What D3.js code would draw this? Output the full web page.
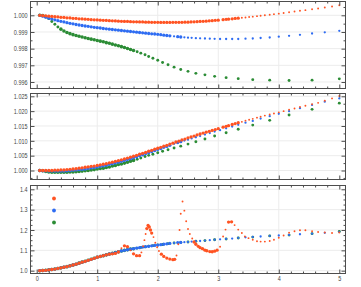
<!DOCTYPE html>
<html><head><meta charset="utf-8">
<script src="https://cdn.jsdelivr.net/npm/d3@7"></script>
<style>body{margin:0;background:#fff}svg{display:block}text{font-family:"Liberation Sans",Arial,sans-serif}</style>
</head><body><svg id="c" width="361" height="287"></svg>
<script>
// ---------- data ----------
const xGreen = [0.05,0.1,0.15,0.2,0.25,0.3,0.35,0.4,0.45,0.5,0.55,0.6,0.65,0.7,0.75,0.8,0.85,0.9,0.95,1,1.05,1.1,1.15,1.2,1.25,1.3,1.35,1.4,1.45,1.5,1.55,1.6,1.66,1.72,1.79,1.85,1.92,2,2.08,2.17,2.27,2.38,2.5,2.63,2.78,2.94,3.13,3.33,3.57,3.85,4.17,4.55,5];
const xBlue = [0.05,0.1,0.15,0.2,0.25,0.3,0.35,0.4,0.45,0.5,0.55,0.6,0.65,0.7,0.75,0.8,0.85,0.9,0.95,1,1.05,1.1,1.15,1.2,1.25,1.3,1.35,1.4,1.45,1.5,1.55,1.6,1.65,1.7,1.75,1.8,1.85,1.9,1.95,2,2.05,2.1,2.15,2.2,2.27,2.33,2.38,2.44,2.5,2.56,2.63,2.7,2.78,2.86,2.94,3.03,3.13,3.23,3.33,3.45,3.57,3.7,3.85,4,4.17,4.35,4.55,4.76,5];
const xOrange = [0.05,0.1,0.15,0.2,0.25,0.3,0.35,0.4,0.45,0.5,0.55,0.6,0.65,0.7,0.75,0.8,0.85,0.9,0.95,1,1.05,1.1,1.15,1.2,1.25,1.3,1.35,1.4,1.45,1.5,1.55,1.6,1.65,1.7,1.75,1.8,1.85,1.9,1.95,2,2.05,2.1,2.15,2.2,2.25,2.3,2.35,2.4,2.45,2.5,2.55,2.6,2.65,2.7,2.75,2.8,2.85,2.9,2.95,3,3.08,3.13,3.17,3.23,3.28,3.33,3.39,3.45,3.51,3.57,3.64,3.7,3.77,3.85,3.92,4,4.08,4.17,4.26,4.35,4.44,4.55,4.65,4.76,4.88,5];
const xOrange3 = [0.05,0.1,0.15,0.2,0.25,0.3,0.35,0.4,0.45,0.5,0.55,0.6,0.65,0.7,0.75,0.8,0.85,0.9,0.95,1,1.05,1.1,1.15,1.2,1.25,1.3,1.35,1.4,1.45,1.5,1.55,1.6,1.65,1.7,1.73,1.76,1.78,1.8,1.82,1.84,1.86,1.88,1.9,1.93,1.96,1.99,2.02,2.06,2.1,2.15,2.2,2.25,2.28,2.31,2.34,2.36,2.38,2.41,2.44,2.47,2.5,2.53,2.57,2.6,2.63,2.67,2.7,2.74,2.78,2.81,2.86,2.9,2.94,2.98,3.03,3.08,3.12,3.17,3.22,3.27,3.33,3.39,3.44,3.5,3.57,3.64,3.7,3.77,3.85,3.92,4,4.08,4.17,4.26,4.35,4.44,4.55,4.65,4.76,4.88,5];

const p1Green = [1,0.99999,0.99992,0.9998,0.99963,0.99946,0.9993,0.99917,0.99906,0.99897,0.9989,0.99884,0.99879,0.99874,0.9987,0.99865,0.99861,0.99857,0.99853,0.99849,0.99845,0.99841,0.99836,0.99832,0.99827,0.99822,0.99817,0.99812,0.99807,0.99801,0.99795,0.99789,0.99781,0.99773,0.99763,0.99753,0.99742,0.9973,0.99717,0.99703,0.99689,0.99675,0.99664,0.99652,0.99643,0.99634,0.99626,0.9962,0.99614,0.99611,0.99609,0.99611,0.99619];
const p1Blue = [1,0.99995,0.99989,0.99983,0.99978,0.99973,0.99968,0.99964,0.9996,0.99956,0.99952,0.99949,0.99945,0.99942,0.99939,0.99936,0.99934,0.99931,0.99928,0.99926,0.99924,0.99921,0.99919,0.99917,0.99915,0.99913,0.99911,0.99909,0.99907,0.99905,0.99903,0.99901,0.99899,0.99897,0.99895,0.99893,0.99891,0.99889,0.99888,0.99886,0.99884,0.99881,0.99879,0.99877,0.99874,0.99872,0.9987,0.99868,0.99866,0.99865,0.99863,0.99862,0.99861,0.9986,0.99859,0.99858,0.99858,0.99858,0.99858,0.9986,0.99861,0.99864,0.99867,0.99872,0.99877,0.99883,0.99891,0.99898,0.99907];
const p1Orange = [1,0.99998,0.99997,0.99995,0.99993,0.99992,0.9999,0.99988,0.99987,0.99985,0.99984,0.99982,0.99981,0.99979,0.99978,0.99977,0.99976,0.99974,0.99973,0.99972,0.99971,0.9997,0.99969,0.99968,0.99967,0.99966,0.99965,0.99964,0.99963,0.99963,0.99962,0.99961,0.99961,0.9996,0.9996,0.99959,0.99959,0.99958,0.99958,0.99958,0.99957,0.99957,0.99957,0.99957,0.99958,0.99958,0.99958,0.99958,0.99959,0.99959,0.9996,0.99961,0.99962,0.99963,0.99964,0.99965,0.99967,0.99968,0.9997,0.99971,0.99974,0.99976,0.99977,0.99979,0.99981,0.99983,0.99985,0.99987,0.9999,0.99992,0.99995,0.99997,1,1.00003,1.00007,1.0001,1.00014,1.00018,1.00023,1.00027,1.00031,1.00036,1.00041,1.00047,1.00053,1.0006];

const p2Green = [1,0.9999,0.9997,0.9995,0.9994,0.9994,0.9994,0.9994,0.9994,0.9994,0.9995,0.9995,0.9996,0.9997,0.9998,0.9999,1,1.0002,1.0003,1.0005,1.0007,1.0008,1.001,1.0012,1.0015,1.0017,1.002,1.0022,1.0025,1.0028,1.0031,1.0034,1.0038,1.0042,1.0047,1.0051,1.0055,1.006,1.0065,1.007,1.0076,1.0082,1.0089,1.0097,1.0106,1.0116,1.0127,1.0139,1.0153,1.0169,1.0187,1.0206,1.0227];
const p2Blue = [1,0.9999,0.9999,0.9998,0.9998,0.9998,0.9998,0.9998,0.9998,0.9999,1,1.0001,1.0002,1.0003,1.0004,1.0005,1.0007,1.0009,1.001,1.0012,1.0014,1.0016,1.0018,1.0021,1.0023,1.0026,1.0028,1.0031,1.0034,1.0037,1.004,1.0043,1.0046,1.005,1.0053,1.0057,1.006,1.0064,1.0067,1.0071,1.0074,1.0078,1.0081,1.0085,1.009,1.0094,1.0097,1.0101,1.0104,1.0108,1.0112,1.0116,1.0121,1.0126,1.0131,1.0136,1.0142,1.0148,1.0154,1.0161,1.0167,1.0175,1.0183,1.0191,1.02,1.021,1.0221,1.0232,1.0243];
const p2Orange = [1,1,1,1,1,1.0001,1.0001,1.0002,1.0002,1.0003,1.0004,1.0005,1.0006,1.0008,1.0009,1.0011,1.0012,1.0014,1.0015,1.0017,1.0019,1.0021,1.0023,1.0026,1.0028,1.0031,1.0033,1.0036,1.0039,1.0042,1.0045,1.0048,1.0051,1.0055,1.0058,1.0061,1.0065,1.0068,1.0072,1.0075,1.0078,1.0082,1.0085,1.0089,1.0092,1.0096,1.0099,1.0103,1.0106,1.011,1.0113,1.0116,1.012,1.0123,1.0126,1.0129,1.0132,1.0135,1.0138,1.0141,1.0146,1.0149,1.0151,1.0155,1.0158,1.0161,1.0164,1.0168,1.0171,1.0174,1.0178,1.0181,1.0185,1.0189,1.0192,1.0196,1.02,1.0205,1.0209,1.0214,1.0218,1.0223,1.0228,1.0235,1.0243,1.0251];

const p3Green = [1,1.001,1.002,1.004,1.006,1.008,1.011,1.014,1.017,1.02,1.024,1.028,1.032,1.037,1.042,1.046,1.051,1.056,1.061,1.066,1.07,1.074,1.078,1.082,1.085,1.089,1.093,1.097,1.1,1.103,1.106,1.108,1.111,1.114,1.117,1.12,1.123,1.126,1.129,1.133,1.136,1.139,1.141,1.145,1.148,1.152,1.156,1.161,1.165,1.171,1.175,1.182,1.193];
const p3Blue = [1,1.001,1.002,1.004,1.006,1.008,1.011,1.014,1.017,1.02,1.024,1.028,1.032,1.037,1.042,1.046,1.051,1.056,1.061,1.066,1.07,1.074,1.078,1.082,1.085,1.089,1.093,1.097,1.1,1.103,1.106,1.108,1.111,1.113,1.116,1.118,1.12,1.122,1.124,1.126,1.128,1.13,1.132,1.134,1.136,1.138,1.139,1.14,1.141,1.143,1.145,1.146,1.148,1.15,1.152,1.154,1.156,1.158,1.161,1.164,1.166,1.168,1.171,1.173,1.176,1.179,1.182,1.186,1.191];
const p3Orange = [1,1.001,1.002,1.004,1.006,1.008,1.011,1.014,1.017,1.02,1.024,1.028,1.032,1.037,1.042,1.046,1.051,1.056,1.061,1.066,1.07,1.074,1.078,1.081,1.083,1.085,1.092,1.11,1.122,1.118,1.1,1.083,1.074,1.074,1.09,1.12,1.15,1.18,1.207,1.222,1.215,1.2,1.185,1.165,1.137,1.115,1.097,1.081,1.07,1.062,1.057,1.054,1.056,1.075,1.13,1.2,1.28,1.34,1.295,1.243,1.205,1.18,1.158,1.141,1.13,1.12,1.113,1.108,1.101,1.098,1.094,1.093,1.096,1.101,1.118,1.168,1.202,1.239,1.24,1.224,1.202,1.185,1.168,1.16,1.152,1.145,1.143,1.143,1.146,1.152,1.162,1.173,1.187,1.194,1.199,1.199,1.194,1.19,1.188,1.185,1.188];

const xTicks = [0,1,2,3,4,5];
const p1Ticks = [0.996,0.997,0.998,0.999,1.000];
const p2Ticks = [1.000,1.005,1.010,1.015,1.020,1.025];
const p3Ticks = [1.0,1.1,1.2,1.3,1.4];
const legendColors = ["orange","blue","green"];

// ---------- style / layout ----------
const COL = {orange:"#ff5322", blue:"#2e6cf2", green:"#2b8c35"};
const RS = {orange:0.95, blue:1.15, green:1.45};
const RD = {orange:1.65, blue:1.65, green:1.8};
const L = 30.5, R = 345.5;
const svg = d3.select("#c");
const x = d3.scaleLinear().domain([-0.1024, 5.1024]).range([L, R]);

const panels = [
  {top:1.5, bottom:88.5, dom:[0.99561,1.000828], ticks:p1Ticks, minor:0.0005, fmt:d3.format(".3f"),
   series:[["green",xGreen,p1Green],["blue",xBlue,p1Blue],["orange",xOrange,p1Orange]]},
  {top:93.5, bottom:179.5, dom:[0.99697,1.025943], ticks:p2Ticks, minor:0.0025, fmt:d3.format(".3f"),
   series:[["green",xGreen,p2Green],["blue",xBlue,p2Blue],["orange",xOrange,p2Orange]]},
  {top:185.5, bottom:273.5, dom:[0.98624,1.41867], ticks:p3Ticks, minor:0.025, fmt:d3.format(".1f"),
   series:[["green",xGreen,p3Green],["blue",xBlue,p3Blue],["orange",xOrange3,p3Orange]], legend:true}
];

const xMinor = d3.range(0, 5.0001, 0.2).filter(v => Math.abs(v - Math.round(v)) > 1e-6);
const FRAME = "#4d4d4d";

function shrinkLabels(g){
  g.selectAll("text").each(function(){
    const n = this; const w = n.getComputedTextLength();
    if (w > 0) d3.select(n).attr("textLength", w*0.78).attr("lengthAdjust","spacingAndGlyphs");
  });
}

panels.forEach((p, i) => {
  const y = d3.scaleLinear().domain(p.dom).range([p.bottom, p.top]);
  const g = svg.append("g");
  const yMinor = d3.range(p.ticks[0] - 10*p.minor, p.ticks[p.ticks.length-1] + 10*p.minor, p.minor)
     .filter(v => v > p.dom[0] && v < p.dom[1] && !p.ticks.some(t => Math.abs(t - v) < p.minor/10));
  // grid
  g.append("g").selectAll("line").data(xTicks.filter(v=>v>0 && v<5)).join("line")
    .attr("x1", d=>x(d)).attr("x2", d=>x(d)).attr("y1", p.top).attr("y2", p.bottom)
    .attr("stroke","#ececec").attr("stroke-width",1);
  g.append("g").selectAll("line").data(p.ticks).join("line")
    .attr("x1", L).attr("x2", R).attr("y1", d=>y(d)).attr("y2", d=>y(d))
    .attr("stroke","#ececec").attr("stroke-width",1);

  // points
  p.series.forEach(([name, xs, ys]) => {
    const pts = xs.map((xv, k) => [x(xv), y(ys[k])]);
    const gap = pts.map((pt, k) => {
      let m = Infinity;
      if (k > 0) m = Math.min(m, Math.hypot(pt[0]-pts[k-1][0], pt[1]-pts[k-1][1]));
      if (k < pts.length-1) m = Math.min(m, Math.hypot(pt[0]-pts[k+1][0], pt[1]-pts[k+1][1]));
      return m;
    });
    g.append("g").selectAll("circle").data(pts).join("circle")
      .attr("cx", d=>d[0]).attr("cy", d=>d[1])
      .attr("r", (d,k)=> gap[k] < 3.6 ? RD[name] : RS[name])
      .attr("fill", COL[name]);
  });

  // legend markers
  if (p.legend) {
    g.append("g").selectAll("circle").data(legendColors).join("circle")
      .attr("cx", 54).attr("cy", (d,k)=>198.5 + k*12).attr("r", 1.9).attr("fill", d=>COL[d]);
  }

  // frame
  g.append("rect").attr("x", L).attr("y", p.top).attr("width", R-L).attr("height", p.bottom-p.top)
    .attr("fill","none").attr("stroke",FRAME).attr("stroke-width",1);

  const clean = s => { s.select(".domain").remove(); s.selectAll("line").attr("stroke",FRAME); };
  // left major with labels
  const la = g.append("g").attr("transform",`translate(${L},0)`)
    .call(d3.axisLeft(y).tickValues(p.ticks).tickSizeInner(-4).tickSizeOuter(0).tickPadding(3).tickFormat(p.fmt))
    .call(clean);
  la.selectAll("text").attr("font-size",7).attr("fill","#444").attr("font-family",null);
  shrinkLabels(la);
  g.append("g").attr("transform",`translate(${L},0)`)
    .call(d3.axisLeft(y).tickValues(yMinor).tickSizeInner(-2).tickSizeOuter(0).tickFormat("")).call(clean);
  g.append("g").attr("transform",`translate(${R},0)`)
    .call(d3.axisRight(y).tickValues(p.ticks).tickSizeInner(-4).tickSizeOuter(0).tickFormat("")).call(clean);
  g.append("g").attr("transform",`translate(${R},0)`)
    .call(d3.axisRight(y).tickValues(yMinor).tickSizeInner(-2).tickSizeOuter(0).tickFormat("")).call(clean);
  // top / bottom
  g.append("g").attr("transform",`translate(0,${p.top})`)
    .call(d3.axisTop(x).tickValues(xTicks).tickSizeInner(-4).tickSizeOuter(0).tickFormat("")).call(clean);
  g.append("g").attr("transform",`translate(0,${p.top})`)
    .call(d3.axisTop(x).tickValues(xMinor).tickSizeInner(-2).tickSizeOuter(0).tickFormat("")).call(clean);
  const ba = g.append("g").attr("transform",`translate(0,${p.bottom})`)
    .call(d3.axisBottom(x).tickValues(xTicks).tickSizeInner(-4).tickSizeOuter(0).tickPadding(3)
      .tickFormat(i === panels.length-1 ? d3.format("d") : "")).call(clean);
  ba.selectAll("text").attr("font-size",7).attr("fill","#444").attr("font-family",null);
  shrinkLabels(ba);
  g.append("g").attr("transform",`translate(0,${p.bottom})`)
    .call(d3.axisBottom(x).tickValues(xMinor).tickSizeInner(-2).tickSizeOuter(0).tickFormat("")).call(clean);
});
</script></body></html>
